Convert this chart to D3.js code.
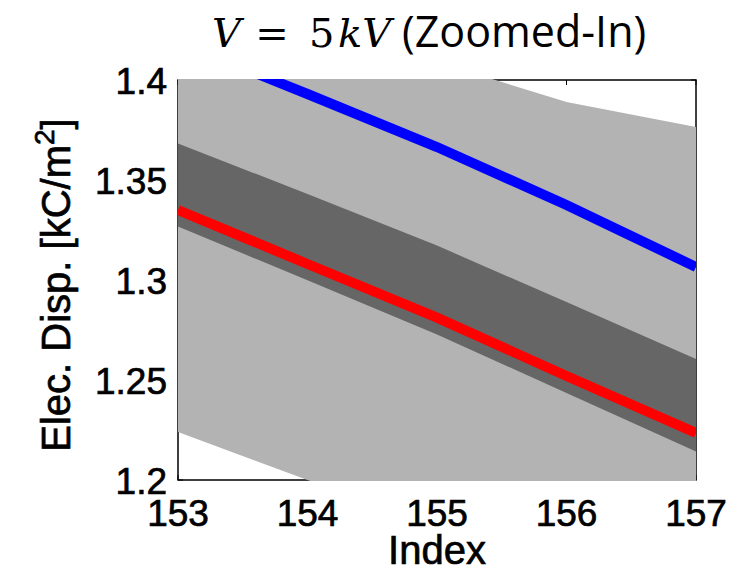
<!DOCTYPE html>
<html><head><meta charset="utf-8">
<script src="https://cdn.jsdelivr.net/npm/d3@7"></script>
<style>body{margin:0;background:#fff}svg{display:block}</style>
</head><body>
<svg id="c" width="745" height="571"></svg>
<script>
const index = [153, 154, 155, 156, 157];
const outerUpper = [1.45, 1.43, 1.409, 1.389, 1.3765];
const outerLower = [1.224, 1.200, 1.178, 1.160, 1.145];
const innerUpper = [1.3683, 1.343, 1.3172, 1.289, 1.2605];
const innerLower = [1.3267, 1.2999, 1.2727, 1.2435, 1.2142];
const redLine = [1.335, 1.308, 1.2812, 1.252, 1.2235];
const blueLine = [1.419, 1.393, 1.3665, 1.3375, 1.3065];
const xTicks = [153, 154, 155, 156, 157];
const yTicks = [1.2, 1.25, 1.3, 1.35, 1.4];

const svg = d3.select("#c");
const L = 178, R = 696, T = 80, B = 480;
const x = d3.scaleLinear().domain([153, 157]).range([L, R]);
const y = d3.scaleLinear().domain([1.2, 1.4]).range([B, T]);
const font = "'Liberation Sans', Arial, sans-serif";

// box + inward ticks
const g = svg.append("g");
g.append("rect").attr("x", L).attr("y", T).attr("width", R - L).attr("height", B - T)
  .attr("fill", "none").attr("stroke", "#000").attr("stroke-width", 1.5);
xTicks.forEach(t => {
  g.append("line").attr("x1", x(t)).attr("x2", x(t)).attr("y1", B).attr("y2", B - 5).attr("stroke", "#000");
  g.append("line").attr("x1", x(t)).attr("x2", x(t)).attr("y1", T).attr("y2", T + 5).attr("stroke", "#000");
});
yTicks.forEach(t => {
  g.append("line").attr("x1", L).attr("x2", L + 5).attr("y1", y(t)).attr("y2", y(t)).attr("stroke", "#000");
  g.append("line").attr("x1", R).attr("x2", R - 5).attr("y1", y(t)).attr("y2", y(t)).attr("stroke", "#000");
});

svg.append("clipPath").attr("id", "clip").append("rect")
  .attr("x", L - 1).attr("y", T - 1).attr("width", R - L + 1).attr("height", B - T + 2);
const p = svg.append("g").attr("clip-path", "url(#clip)");

const area = (up, lo) => d3.area().x((d, i) => x(index[i])).y0((d, i) => y(lo[i])).y1((d, i) => y(up[i]))(index);
p.append("path").attr("d", area(outerUpper, outerLower)).attr("fill", "#b3b3b3");
p.append("path").attr("d", area(innerUpper, innerLower)).attr("fill", "#666666");
const line = d3.line().x((d, i) => x(index[i])).y(d => y(d));
p.append("path").attr("d", line(redLine)).attr("fill", "none").attr("stroke", "#ff0000").attr("stroke-width", 10);
p.append("path").attr("d", line(blueLine)).attr("fill", "none").attr("stroke", "#0000ff").attr("stroke-width", 10);

// tick labels
const heavy = sel => sel.attr("stroke", "#000").attr("stroke-width", 0.7);
xTicks.forEach(t => {
  svg.append("text").attr("x", x(t)).attr("y", 526).attr("text-anchor", "middle")
    .attr("font-family", font).attr("font-size", 37).text(t).call(heavy);
});
yTicks.forEach(t => {
  svg.append("text").attr("x", 167).attr("y", y(t) + 14).attr("text-anchor", "end")
    .attr("font-family", font).attr("font-size", 37).text(d3.format("")(t)).call(heavy);
});

// axis labels
svg.append("text").attr("x", 437).attr("y", 564).attr("text-anchor", "middle")
  .attr("font-family", font).attr("font-size", 40).text("Index").call(heavy);
const yl = svg.append("text").attr("transform", "translate(70,285) rotate(-90)")
  .attr("text-anchor", "middle").attr("font-family", font).attr("font-size", 40).call(heavy);
yl.append("tspan").text("Elec. Disp. [kC/m");
yl.append("tspan").attr("font-size", 28).attr("dy", -16).text("2");
yl.append("tspan").attr("dy", 16).text("]");

// title
const ser = "'DejaVu Serif', serif";
const tY = 47;
svg.append("text").attr("x", 212).attr("y", tY).attr("font-family", ser).attr("font-style", "italic").attr("font-size", 40).text("V");
svg.append("text").attr("x", 272).attr("y", tY).attr("text-anchor", "middle").attr("font-family", ser).attr("font-size", 40).text("=");
svg.append("text").attr("x", 309).attr("y", tY).attr("font-family", ser).attr("font-size", 40).text("5");
svg.append("text").attr("x", 338).attr("y", tY).attr("font-family", ser).attr("font-style", "italic").attr("font-size", 40).text("kV");
svg.append("text").attr("x", 402).attr("y", tY).attr("font-family", "'Open Sans', sans-serif").attr("font-size", 43).text("(Zoomed-In)");
</script>
</body></html>
